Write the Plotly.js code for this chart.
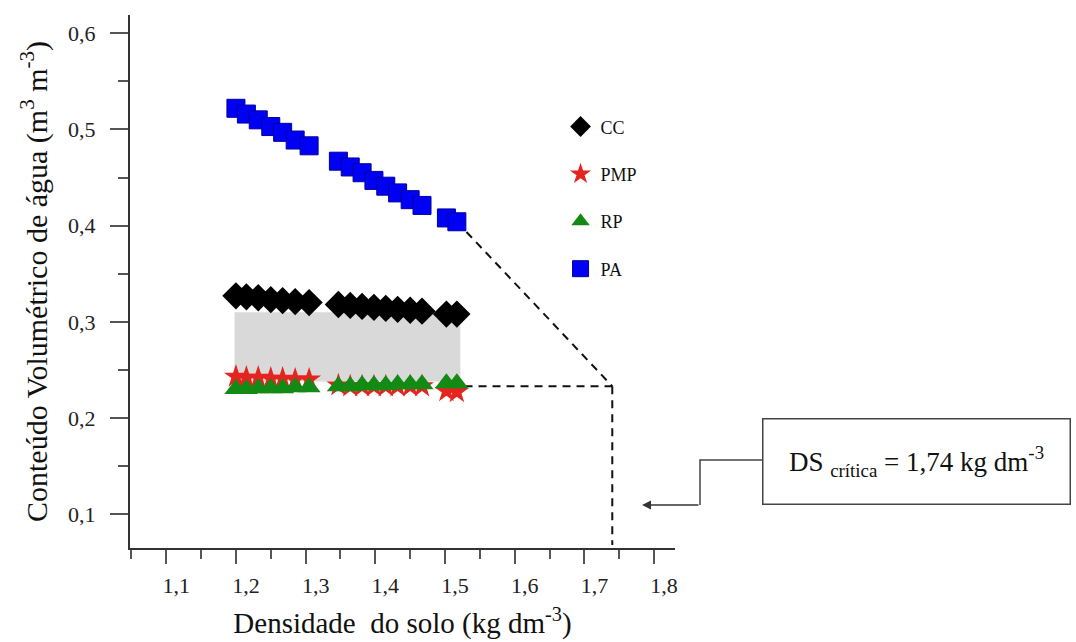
<!DOCTYPE html>
<html>
<head>
<meta charset="utf-8">
<script src="https://cdn.plot.ly/plotly-3.0.1.min.js"></script>
<style>html,body{margin:0;padding:0;background:#fff;}#chart{width:1076px;height:642px;}</style>
</head>
<body>
<div id="chart"></div>
<script>
// ---- data ----
const density = [1.200,1.215,1.232,1.250,1.267,1.285,1.305, 1.347,1.364,1.381,1.398,1.415,1.432,1.450,1.467, 1.502,1.517];
const CC  = [0.327,0.326,0.325,0.323,0.322,0.321,0.320, 0.318,0.317,0.316,0.315,0.314,0.313,0.312,0.311, 0.308,0.308];
const PMP = [0.243,0.242,0.242,0.241,0.241,0.240,0.240, 0.234,0.233,0.233,0.233,0.233,0.233,0.233,0.233, 0.228,0.227];
const RP  = [0.230,0.230,0.231,0.231,0.231,0.232,0.232, 0.233,0.233,0.234,0.234,0.234,0.235,0.235,0.235, 0.236,0.236];
const PA  = [0.522,0.516,0.510,0.503,0.497,0.489,0.483, 0.467,0.461,0.455,0.447,0.441,0.434,0.427,0.421, 0.408,0.404];

// shaded band between CC and PMP/RP
const bandX = [1.198, 1.522];
const bandTop = [0.310, 0.310];
const bandBottom = [0.238, 0.238];

// critical density construction
const dsCritica = 1.74;
const thetaCritico = 0.233;
const hLineStart = 1.528;
const yAxisMin = 0.068;

// ticks
const xTicks = [1.1,1.2,1.3,1.4,1.5,1.6,1.7,1.8];
const xTickText = ["1,1","1,2","1,3","1,4","1,5","1,6","1,7","1,8"];
const yTicks = [0.1,0.2,0.3,0.4,0.5,0.6];
const yTickText = ["0,1","0,2","0,3","0,4","0,5","0,6"];

const serif = '"Liberation Serif", "Times New Roman", Times, "DejaVu Serif", serif';
const last = density.length - 1;
const dashStyle = {color:'#111', width:2, dash:'8px,6px'};

const traces = [
  {x: bandX, y: bandBottom, mode:'lines', line:{width:0, color:'rgba(0,0,0,0)'}, showlegend:false, hoverinfo:'skip'},
  {x: bandX, y: bandTop, mode:'lines', fill:'tonexty', fillcolor:'#d9d9d9', line:{width:0, color:'rgba(0,0,0,0)'}, showlegend:false, hoverinfo:'skip'},
  {x:[density[last], dsCritica], y:[PA[last], thetaCritico], mode:'lines', line:dashStyle, showlegend:false, hoverinfo:'skip'},
  {x:[hLineStart, dsCritica], y:[thetaCritico, thetaCritico], mode:'lines', line:dashStyle, showlegend:false, hoverinfo:'skip'},
  {x:[dsCritica, dsCritica], y:[thetaCritico, yAxisMin], mode:'lines', line:dashStyle, showlegend:false, hoverinfo:'skip'},
  {name:'CC', legendgroup:'cc', x:density, y:CC, mode:'markers', marker:{symbol:'diamond', size:21, color:'#000'}},
  {name:'PMP', legendgroup:'pmp', x:density, y:PMP, mode:'markers', marker:{symbol:'star', size:18, color:'#e52420'}},
  {name:'RP', legendgroup:'rp', x:density, y:RP, mode:'markers', marker:{symbol:'triangle-up', size:20, color:'#138a13'}},
  {name:'PA', legendgroup:'pa', x:density, y:PA, mode:'markers', marker:{symbol:'square', size:18, color:'#0000f5', line:{color:'#0000a0', width:1}}}
];

const axisFont = {family: serif, size: 22, color:'#222'};

const layout = {
  width:1076, height:642,
  font:{family: serif},
  margin:{l:130, r:401, t:15, b:94},
  paper_bgcolor:'#fff', plot_bgcolor:'#fff',
  showlegend:true,
  legend:{x:0.79, y:0.825, xanchor:'left', yanchor:'top', bgcolor:'rgba(0,0,0,0)',
          font:{family:serif, size:18, color:'#111'}, tracegroupgap:21, itemwidth:30},
  xaxis:{range:[1.048, 1.83], showgrid:false, zeroline:false, showline:true, linecolor:'#333', linewidth:2,
         tickmode:'array', tickvals:xTicks, ticktext:xTickText, ticks:'outside', ticklen:14, tickwidth:2, tickcolor:'#555',
         minor:{dtick:0.1, tick0:1.15, ticks:'outside', ticklen:9, tickwidth:2, tickcolor:'#555'},
         tickfont:axisFont, ticklabelshift:10, ticklabelstandoff:3,
         title:{text:'Densidade  do solo (kg dm<sup>-3</sup>)', font:{family:serif, size:29, color:'#111'}, standoff:15}},
  yaxis:{range:[0.0648, 0.619], showgrid:false, zeroline:false, showline:true, linecolor:'#333', linewidth:2,
         tickmode:'array', tickvals:yTicks, ticktext:yTickText, ticks:'outside', ticklen:18, tickwidth:2, tickcolor:'#555',
         minor:{dtick:0.1, tick0:0.15, ticks:'outside', ticklen:10, tickwidth:2, tickcolor:'#555'},
         tickfont:axisFont, ticklabelstandoff:10,
         title:{text:'Conteúdo Volumétrico de água (m<sup>3</sup> m<sup>-3</sup>)', font:{family:serif, size:30, color:'#111'}, standoff:12}},
  shapes:[
    {type:'path', xref:'paper', yref:'paper', path:'M 1.1596 0.165 L 1.0459 0.165 L 1.0459 0.0807',
     line:{color:'#444', width:1.5}}
  ],
  annotations:[
    {xref:'paper', yref:'paper', x:1.444, y:0.1632, xanchor:'center', yanchor:'middle', showarrow:false,
     text:'DS <sub>crítica</sub> = 1,74 kg dm<sup>-3</sup>', font:{family:serif, size:27, color:'#111'},
     bordercolor:'#444', borderwidth:1.5, borderpad:3, width:300, height:78, bgcolor:'#fff', align:'center'},
    {xref:'paper', yref:'paper', x:0.9394, y:0.0807, showarrow:true, ax:58, ay:0, text:'',
     arrowhead:2, arrowsize:1.2, arrowwidth:1.5, arrowcolor:'#333'}
  ]
};

Plotly.newPlot('chart', traces, layout, {displayModeBar:false, staticPlot:true});
</script>
</body>
</html>
